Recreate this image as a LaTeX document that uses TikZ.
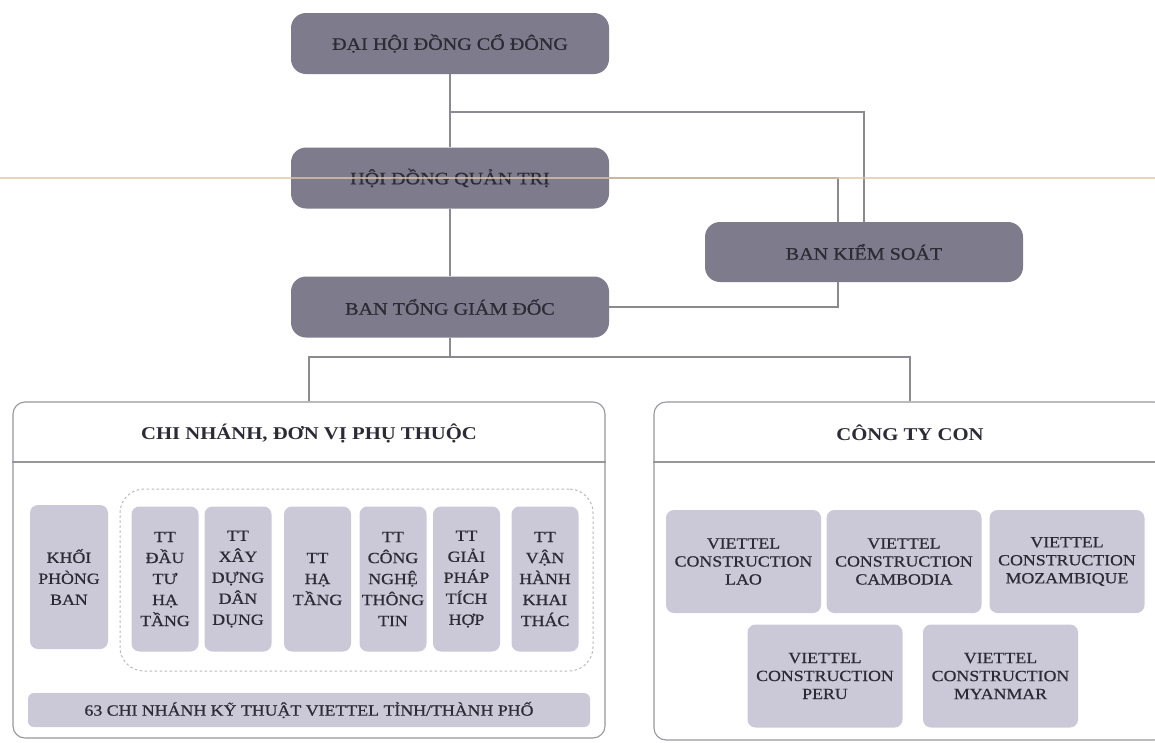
\documentclass[tikz,border=0pt]{standalone}
\usepackage{fontspec}
\setmainfont{Liberation Serif}[FakeStretch=1.15]
\newfontfamily\boxfont{Liberation Serif}[FakeStretch=1.15,FakeBold=0.7]
\usetikzlibrary{backgrounds}
\definecolor{boxdark}{RGB}{126,123,141}
\definecolor{textdark}{RGB}{44,42,52}
\definecolor{boxlight}{RGB}{203,200,216}
\definecolor{textlight}{RGB}{44,42,52}
\definecolor{linegray}{RGB}{138,138,144}
\definecolor{panelgray}{RGB}{150,150,156}
\definecolor{scantan}{RGB}{222,197,166}
\begin{document}
\begin{tikzpicture}[x=1pt,y=-1pt,
                darkbox/.style={fill=boxdark,rounded corners=15pt,minimum width=318pt,minimum height=61pt,inner sep=0pt,text=textdark,font=\boxfont\fontsize{17.5}{20}\selectfont},
                lightbox/.style={fill=boxlight,rounded corners=8pt,inner sep=0pt,align=center,text=textlight,font=\boxfont\fontsize{15.5}{21}\selectfont},
                panel/.style={draw=panelgray,line width=1.1pt,rounded corners=12pt,inner sep=0pt},
                headtext/.style={text=textdark,font=\bfseries\fontsize{18}{20}\selectfont},
                link/.style={draw=linegray,line width=1.2pt}]
                \useasboundingbox (0,0) rectangle (1155,742);
                \node[darkbox] (dhcd) at (450,43.5) {ĐẠI HỘI ĐỒNG CỔ ĐÔNG};
                \node[darkbox] (hdqt) at (450,178) {HỘI ĐỒNG QUẢN TRỊ};
                \node[darkbox] (btgd) at (450,307) {BAN TỔNG GIÁM ĐỐC};
                \node[darkbox,minimum width=318pt,minimum height=60pt] (bks) at (864,252) {BAN KIỂM SOÁT};
                \node[panel,minimum width=592pt,minimum height=336pt] (chinhanh) at (309,570) {};
                \node[panel,minimum width=512pt,minimum height=338pt] (congtycon) at (910,571) {};
                \coordinate (sep) at (0,462);
                \draw[draw=panelgray,line width=1.1pt] (chinhanh.west |- sep) -- (chinhanh.east |- sep);
                \draw[draw=panelgray,line width=1.1pt] (congtycon.west |- sep) -- (congtycon.east |- sep);
                \node[headtext] (headL) at (309,433) {CHI NHÁNH, ĐƠN VỊ PHỤ THUỘC};
                \node[headtext] (headR) at (910,433) {CÔNG TY CON};
                \node[draw=gray!55,dash pattern=on 2.5pt off 2.5pt,line width=1pt,rounded corners=24pt,minimum width=473pt,minimum height=182pt] (ttgroup) at (356.5,580) {};
                \node[lightbox,minimum width=78pt,minimum height=144pt] (khoi) at (69,577) {KHỐI\\PHÒNG\\BAN};
                \foreach \x/\n/\t in {165/ttdt/{TT\\ĐẦU\\TƯ\\HẠ\\TẦNG},238/ttxd/{TT\\XÂY\\DỰNG\\DÂN\\DỤNG},317.5/ttht/{TT\\HẠ\\TẦNG},393/ttcn/{TT\\CÔNG\\NGHỆ\\THÔNG\\TIN},466.5/ttgp/{TT\\GIẢI\\PHÁP\\TÍCH\\HỢP},545/ttvh/{TT\\VẬN\\HÀNH\\KHAI\\THÁC}}
                {
                    \node[lightbox,minimum width=67pt,minimum height=145pt] (\n) at (\x,579) {\t};
                }
                \node[lightbox,minimum width=562pt,minimum height=34pt,rounded corners=6pt] (cn63) at (309,710) {63 CHI NHÁNH KỸ THUẬT VIETTEL TỈNH/THÀNH PHỐ};
                \foreach \x/\y/\n/\t in {743.5/561.5/vclao/LAO,904/561.5/vccam/CAMBODIA,1067/561.5/vcmoz/MOZAMBIQUE,825/676/vcperu/PERU,1000.5/676/vcmya/MYANMAR}
                {
                    \node[lightbox,minimum width=155pt,minimum height=103pt,font=\boxfont\fontsize{15.5}{18}\selectfont] (\n) at (\x,\y) {VIETTEL\\CONSTRUCTION\\\t};
                }
                \coordinate (fork1) at (450,112);
                \coordinate (bend1) at (838,250);
                \coordinate (fork2) at (450,357);
                \begin{pgfonlayer}{background}
                    \draw[link] (dhcd.south) -- (hdqt.north);
                    \draw[link] (hdqt.south) -- (btgd.north);
                    \draw[link] (btgd.south) -- (fork2);
                    \draw[link] (fork1) -| (bks.north);
                    \draw[link] (hdqt.east) -| (bend1) |- (btgd.east);
                    \draw[link] (chinhanh.north) |- (fork2) -| (congtycon.north);
                \end{pgfonlayer}
                \draw[scantan,line width=1.5pt,opacity=.75] (0,178) -- (1155,178);
            \end{tikzpicture}
\end{document}
